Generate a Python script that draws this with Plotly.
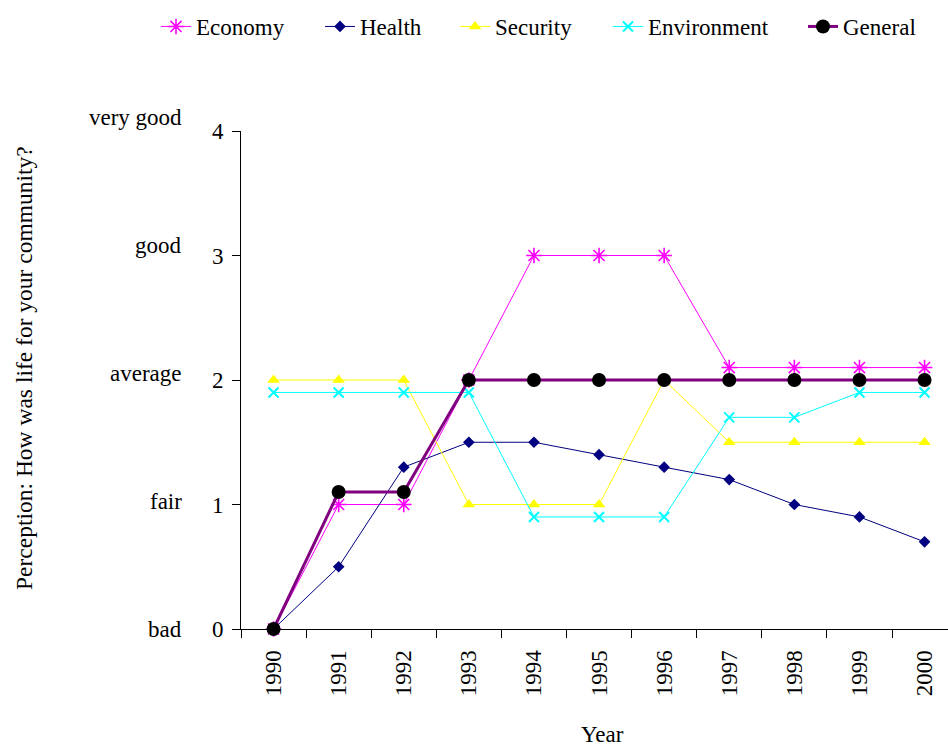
import plotly.graph_objects as go

years = ["1990", "1991", "1992", "1993", "1994", "1995", "1996", "1997", "1998", "1999", "2000"]

economy = [0, 1, 1, 2, 3, 3, 3, 2.1, 2.1, 2.1, 2.1]
health = [0, 0.5, 1.3, 1.5, 1.5, 1.4, 1.3, 1.2, 1.0, 0.9, 0.7]
security = [2, 2, 2, 1, 1, 1, 2, 1.5, 1.5, 1.5, 1.5]
environment = [1.9, 1.9, 1.9, 1.9, 0.9, 0.9, 0.9, 1.7, 1.7, 1.9, 1.9]
general = [0, 1.1, 1.1, 2, 2, 2, 2, 2, 2, 2, 2]

rating_labels = ["bad", "fair", "average", "good", "very good"]
y_ticks = [0, 1, 2, 3, 4]

FONT = "Liberation Serif"
FS = 23
TXT = dict(family=FONT, size=FS, color="#000000")

W, H = 948, 746
L, R, T, B = 241, 0, 131, 117
plot_w = W - L - R
plot_h = H - T - B
cat_px = 65.1  # pixel width of one year category


def px_to_paper_x(px):
    return (px - L) / plot_w


def px_to_paper_y(py):
    return (H - B - py) / plot_h


series = [
    dict(name="Economy", y=economy, color="#FF00FF", lw=1,
         marker=dict(symbol="asterisk-open", size=13, color="#FF00FF",
                     line=dict(color="#FF00FF", width=1.6)), text_x=198),
    dict(name="Health", y=health, color="#000080", lw=1,
         marker=dict(symbol="diamond", size=9, color="#000080",
                     line=dict(width=0)), text_x=362),
    dict(name="Security", y=security, color="#FFFF00", lw=1,
         marker=dict(symbol="triangle-up", size=11, color="#FFFF00",
                     line=dict(width=0)), text_x=497),
    dict(name="Environment", y=environment, color="#00FFFF", lw=1,
         marker=dict(symbol="x-thin-open", size=10, color="#00FFFF",
                     line=dict(color="#00FFFF", width=2)), text_x=650),
    dict(name="General", y=general, color="#800080", lw=3,
         marker=dict(symbol="circle", size=14, color="#000000",
                     line=dict(width=0)), text_x=845),
]

fig = go.Figure()
legend_layouts = {}
for i, s in enumerate(series):
    key = "legend" if i == 0 else f"legend{i + 1}"
    label = f"<span style='font-family:\"Liberation Serif\",serif'>{s['name']}</span>"
    fig.add_trace(go.Scatter(
        x=years, y=s["y"], name=label, mode="lines+markers",
        line=dict(color=s["color"], width=s["lw"]),
        marker=s["marker"], cliponaxis=False, legend=key,
    ))
    legend_layouts[key] = go.layout.Legend(
        x=px_to_paper_x(s["text_x"] - 42), xanchor="left",
        y=px_to_paper_y(26.5), yanchor="middle",
        orientation="h", bgcolor="rgba(0,0,0,0)", borderwidth=0,
        font=TXT, itemclick=False, itemdoubleclick=False,
    )

annotations = []
for v, lab in zip(y_ticks, rating_labels):
    annotations.append(dict(
        text=lab, xref="paper", yref="paper",
        x=px_to_paper_x(184), xanchor="right",
        y=v * 0.2566, yanchor="middle", showarrow=False, font=TXT,
    ))

annotations.append(dict(
    text="Perception: How was life for your community?",
    xref="paper", yref="paper", x=px_to_paper_x(24), y=px_to_paper_y(368),
    xanchor="center", yanchor="middle", textangle=-90, showarrow=False,
    font=dict(family=FONT, size=23.5, color="#000000"),
))
annotations.append(dict(
    text="Year", xref="paper", yref="paper",
    x=px_to_paper_x(602), y=px_to_paper_y(734),
    xanchor="center", yanchor="middle", showarrow=False, font=TXT,
))

fig.update_layout(
    width=W, height=H,
    margin=dict(l=L, r=R, t=T, b=B, pad=0),
    paper_bgcolor="white", plot_bgcolor="white",
    font=TXT,
    showlegend=True,
    annotations=annotations,
    **legend_layouts,
)

fig.update_xaxes(
    type="category", range=[-0.5, -0.5 + plot_w / cat_px],
    showline=True, linecolor="#000000", linewidth=1,
    ticks="outside", tickson="boundaries", ticklen=8, tickcolor="#000000",
    tickangle=-90, showgrid=False, zeroline=False,
    tickfont=TXT, ticklabelstandoff=11,
)
fig.update_yaxes(
    range=[0, 4], tickvals=y_ticks,
    showline=True, linecolor="#000000", linewidth=1,
    ticks="outside", ticklen=8, tickcolor="#000000",
    showgrid=False, zeroline=False,
    tickfont=TXT, ticklabelstandoff=4,
)

fig.write_html("out.html")
